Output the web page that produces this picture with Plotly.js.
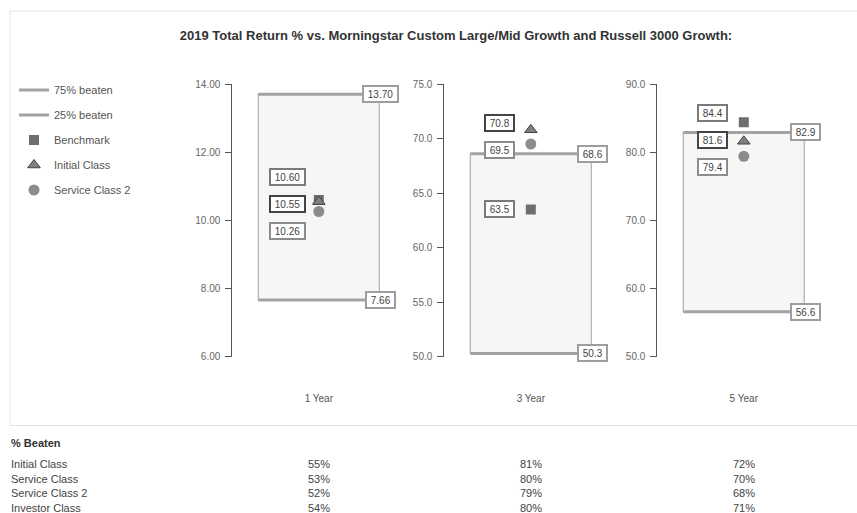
<!DOCTYPE html>
<html>
<head>
<meta charset="utf-8">
<script src="https://cdn.plot.ly/plotly-3.0.1.min.js"></script>
<style>html,body{margin:0;padding:0;background:#fff;}#chart{width:857px;height:513px;}</style>
</head>
<body>
<div id="chart"></div>
<script>
// ---- data ----
const periods = ['1 Year', '3 Year', '5 Year'];
const beaten75 = [13.70, 68.6, 82.9];
const beaten25 = [7.66, 50.3, 56.6];
const benchmark = [10.60, 63.5, 84.4];
const initialClass = [10.55, 70.8, 81.6];
const serviceClass2 = [10.26, 69.5, 79.4];
const yRanges = [[6, 14], [50, 75], [50, 90]];
const yDticks = [2, 5, 10];
const yFormats = ['.2f', '.1f', '.1f'];
const labelFormats = [2, 1, 1];
const tableTitle = '% Beaten';
const tableClasses = ['Initial Class', 'Service Class', 'Service Class 2', 'Investor Class'];
const pctBeaten = [
  [55, 81, 72],
  [53, 80, 70],
  [52, 79, 68],
  [54, 80, 71]
];
const chartTitle = '2019 Total Return % vs. Morningstar Custom Large/Mid Growth and Russell 3000 Growth:';

// ---- layout geometry ----
const W = 857, H = 513;
const FONT = 'Liberation Sans, Arial, Helvetica, sans-serif';
const xStarts = [232.3, 444.3, 657.3];
const xRange = [-0.715, 0.75];
const pxPerX = 121;
const yTop = 84, yBot = 356.7;
const yDomain = [1 - yBot / H, 1 - yTop / H];

const traces = [];
const shapes = [];
const annotations = [];
const layout = {
  width: W, height: H,
  margin: {l: 0, r: 0, t: 0, b: 0},
  paper_bgcolor: '#ffffff',
  plot_bgcolor: 'rgba(0,0,0,0)',
  font: {family: FONT, color: '#555'},
  title: {text: chartTitle, x: 456 / W, xanchor: 'center', y: 1 - 35 / H, yanchor: 'middle',
          font: {family: FONT, size: 13, color: '#333', weight: 'bold'}},
  showlegend: true,
  legend: {x: 14 / W, xanchor: 'left', y: 1 - 75.5 / H, yanchor: 'top', traceorder: 'grouped',
           tracegroupgap: 6, font: {family: FONT, size: 11, color: '#555'}, bgcolor: 'rgba(0,0,0,0)'},
  hovermode: false
};

const markerStyles = {
  benchmark: {symbol: 'square', size: 10, color: '#6e6e6e', line: {width: 0}},
  initial: {symbol: 'triangle-up', size: 11, color: '#808080', line: {width: 1, color: '#444'}},
  sc2: {symbol: 'circle', size: 11, color: '#8c8c8c', line: {width: 0}}
};
const labelBorders = {benchmark: '#7a7a7a', initial: '#444444', sc2: '#8c8c8c', edge: '#9e9e9e'};

function labelWidth(s) {
  let w = 0;
  for (const c of s) w += (c === '.') ? 2.78 : 5.56;
  return w + 6;
}

periods.forEach((p, i) => {
  const n = i === 0 ? '' : String(i + 1);
  const xa = 'x' + n, ya = 'y' + n;
  const x0 = xStarts[i] / W;
  const x1 = (xStarts[i] + (xRange[1] - xRange[0]) * pxPerX) / W;
  layout['xaxis' + n] = {
    domain: [x0, x1], range: xRange, anchor: ya, showgrid: false, zeroline: false, showline: false,
    ticks: '', tickvals: [0], ticktext: [p], tickfont: {family: FONT, size: 10, color: '#555'},
    ticklabelstandoff: 34, fixedrange: true
  };
  layout['yaxis' + n] = {
    domain: yDomain, range: yRanges[i], anchor: xa, dtick: yDticks[i], tick0: yRanges[i][0],
    tickformat: yFormats[i], showgrid: false, zeroline: false, showline: true, linecolor: '#555',
    linewidth: 1, ticks: 'outside', ticklen: 6, tickcolor: '#555', ticklabelstandoff: 3,
    tickfont: {family: FONT, size: 10, color: '#666'}, fixedrange: true
  };

  // box between 25% and 75% beaten
  shapes.push({type: 'rect', xref: xa, yref: ya, x0: -0.5, x1: 0.5, y0: beaten25[i], y1: beaten75[i],
               fillcolor: '#f6f6f6', line: {color: '#b5b5b5', width: 1.3}, layer: 'below'});

  traces.push({type: 'scatter', mode: 'lines', x: [-0.5, 0.5], y: [beaten75[i], beaten75[i]],
               xaxis: xa, yaxis: ya, name: '75% beaten', legendgroup: 'g1', showlegend: i === 0,
               line: {color: '#a3a3a3', width: 3}});
  traces.push({type: 'scatter', mode: 'lines', x: [-0.5, 0.5], y: [beaten25[i], beaten25[i]],
               xaxis: xa, yaxis: ya, name: '25% beaten', legendgroup: 'g2', showlegend: i === 0,
               line: {color: '#a3a3a3', width: 3}});
  traces.push({type: 'scatter', mode: 'markers', x: [0], y: [benchmark[i]], xaxis: xa, yaxis: ya,
               name: 'Benchmark', legendgroup: 'g3', showlegend: i === 0, marker: markerStyles.benchmark});
  traces.push({type: 'scatter', mode: 'markers', x: [0], y: [initialClass[i]], xaxis: xa, yaxis: ya,
               name: 'Initial Class', legendgroup: 'g4', showlegend: i === 0, marker: markerStyles.initial});
  traces.push({type: 'scatter', mode: 'markers', x: [0], y: [serviceClass2[i]], xaxis: xa, yaxis: ya,
               name: 'Service Class 2', legendgroup: 'g5', showlegend: i === 0, marker: markerStyles.sc2});

  const dec = labelFormats[i];
  const plotH = yBot - yTop;
  const [ymin, ymax] = yRanges[i];
  const toPx = v => (v - ymin) / (ymax - ymin) * plotH; // up = positive

  // edge labels
  [[beaten75[i]], [beaten25[i]]].forEach(([v]) => {
    const t = v.toFixed(dec);
    annotations.push({xref: xa, yref: ya, x: 0.5, y: v, text: t, showarrow: false, xanchor: 'center',
      yanchor: 'middle', xshift: 1, font: {family: FONT, size: 10, color: '#444'}, bgcolor: '#fff',
      bordercolor: labelBorders.edge, borderwidth: 2, borderpad: 1, width: labelWidth(t), height: 12});
  });

  // point labels, spread to avoid overlap
  const items = [
    {v: benchmark[i], c: labelBorders.benchmark},
    {v: initialClass[i], c: labelBorders.initial},
    {v: serviceClass2[i], c: labelBorders.sc2}
  ].map(o => Object.assign(o, {py: toPx(o.v)})).sort((a, b) => b.py - a.py);
  const GAP = 27;
  let clusters = items.map(o => ({members: [o], center: o.py}));
  let merged = true;
  while (merged) {
    merged = false;
    for (let k = 0; k < clusters.length - 1; k++) {
      const a = clusters[k], b = clusters[k + 1];
      const aBottom = a.center - (a.members.length - 1) * GAP / 2;
      const bTop = b.center + (b.members.length - 1) * GAP / 2;
      if (aBottom - bTop < GAP) {
        const m = a.members.concat(b.members);
        const c = m.reduce((s, o) => s + o.py, 0) / m.length;
        clusters.splice(k, 2, {members: m, center: c});
        merged = true;
        break;
      }
    }
  }
  clusters.forEach(cl => {
    cl.members.forEach((o, j) => {
      const placed = cl.center + ((cl.members.length - 1) / 2 - j) * GAP;
      const t = o.v.toFixed(dec);
      annotations.push({xref: xa, yref: ya, x: 0, y: o.v, text: t, showarrow: false, xanchor: 'center',
        yanchor: 'middle', xshift: -31, yshift: placed - o.py,
        font: {family: FONT, size: 10, color: '#444'}, bgcolor: '#fff',
        bordercolor: o.c, borderwidth: 2, borderpad: 1, width: labelWidth(t), height: 12});
    });
  });

  // table values
  tableClasses.forEach((cls, r) => {
    annotations.push({xref: xa, yref: 'paper', x: 0, y: 1 - (464 + r * 14.7) / H, text: pctBeaten[r][i] + '%',
      showarrow: false, xanchor: 'center', yanchor: 'middle', font: {family: FONT, size: 11, color: '#444'}});
  });
});

// outer border of chart area
shapes.push({type: 'rect', xref: 'paper', yref: 'paper', x0: 10 / W, x1: 1.01, y0: 1 - 425.5 / H, y1: 1 - 11 / H,
             line: {color: '#e4e4e4', width: 1}, fillcolor: 'rgba(0,0,0,0)', layer: 'below'});

// table header and row names
annotations.push({xref: 'paper', yref: 'paper', x: 9 / W, y: 1 - 443 / H, text: '<b>' + tableTitle + '</b>',
  showarrow: false, xanchor: 'left', yanchor: 'middle', font: {family: FONT, size: 11, color: '#333'}});
tableClasses.forEach((cls, r) => {
  annotations.push({xref: 'paper', yref: 'paper', x: 9 / W, y: 1 - (464 + r * 14.7) / H, text: cls,
    showarrow: false, xanchor: 'left', yanchor: 'middle', font: {family: FONT, size: 11, color: '#444'}});
});

layout.shapes = shapes;
layout.annotations = annotations;

Plotly.newPlot('chart', traces, layout, {displayModeBar: false, staticPlot: true});
</script>
</body>
</html>
